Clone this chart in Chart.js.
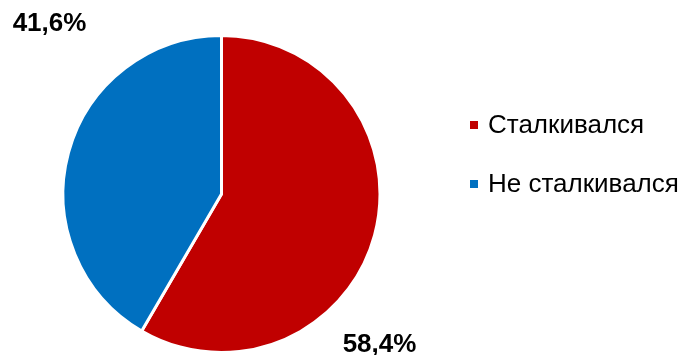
<!DOCTYPE html>
<html>
<head>
<meta charset="utf-8">
<script src="https://cdn.jsdelivr.net/npm/chart.js@4"></script>
<style>
  html, body { margin: 0; padding: 0; background: #fff; }
  #wrap { width: 687px; height: 355px; }
</style>
</head>
<body>
<div id="wrap"><canvas id="pie"></canvas></div>
<script>
const categories = ['Сталкивался', 'Не сталкивался'];
const shares = [58.4, 41.6];
const shareLabels = ['58,4%', '41,6%'];
const colors = ['#C00000', '#0070C0'];

// value labels sit outside the pie, offsets relative to the pie centre
const labelSpots = [{dx: 158, dy: 151}, {dx: -172, dy: -170}];

const outsideLabels = {
  id: 'outsideLabels',
  afterDatasetsDraw(chart) {
    const ctx = chart.ctx;
    const arcs = chart.getDatasetMeta(0).data;
    ctx.save();
    ctx.font = 'bold 26px "Liberation Sans", Arial, sans-serif';
    ctx.fillStyle = '#000';
    ctx.textAlign = 'center';
    ctx.textBaseline = 'middle';
    arcs.forEach((arc, i) => {
      ctx.fillText(shareLabels[i], arc.x + labelSpots[i].dx, arc.y + labelSpots[i].dy);
    });

    // legend on the right
    ctx.font = '26px "Liberation Sans", Arial, sans-serif';
    ctx.textAlign = 'left';
    const lx = 470, ly = [125, 184];
    categories.forEach((name, i) => {
      ctx.fillStyle = colors[i];
      ctx.fillRect(lx, ly[i] - 4, 8, 8);
      ctx.fillStyle = '#000';
      ctx.fillText(name, lx + 18, ly[i] + 1);
    });
    ctx.restore();
  }
};

new Chart(document.getElementById('pie').getContext('2d'), {
  type: 'pie',
  data: {
    labels: categories,
    datasets: [{
      data: shares,
      backgroundColor: colors,
      borderColor: '#fff',
      borderWidth: 3
    }]
  },
  options: {
    responsive: true,
    maintainAspectRatio: false,
    animation: false,
    layout: { padding: { left: 60, right: 304, top: 34, bottom: 1 } },
    plugins: {
      legend: { display: false },
      tooltip: { enabled: false }
    }
  },
  plugins: [outsideLabels]
});
</script>
</body>
</html>
